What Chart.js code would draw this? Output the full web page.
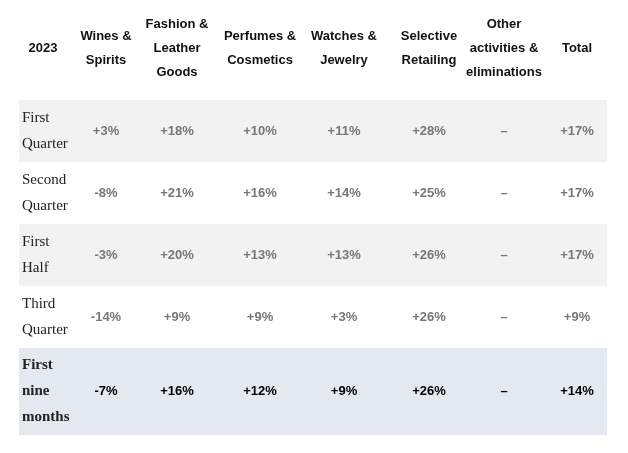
<!DOCTYPE html>
<html>
<head>
<meta charset="utf-8">
<script src="https://cdn.jsdelivr.net/npm/chart.js@4/dist/chart.umd.min.js"></script>
<style>
  body { margin: 0; background: #fff; }
  #wrap { width: 628px; height: 453px; }
</style>
</head>
<body>
<div id="wrap"><canvas id="tbl"></canvas></div>
<script>
// table content
const headers = [['2023'], ['Wines &', 'Spirits'], ['Fashion &', 'Leather', 'Goods'], ['Perfumes &', 'Cosmetics'],
    ['Watches &', 'Jewelry'], ['Selective', 'Retailing'], ['Other', 'activities &', 'eliminations'], ['Total']];
const periods = [['First', 'Quarter'], ['Second', 'Quarter'], ['First', 'Half'], ['Third', 'Quarter'], ['First', 'nine', 'months']];
const winesSpirits = ['+3%', '-8%', '-3%', '-14%', '-7%'];
const fashionLeather = ['+18%', '+21%', '+20%', '+9%', '+16%'];
const perfumesCosmetics = ['+10%', '+16%', '+13%', '+9%', '+12%'];
const watchesJewelry = ['+11%', '+14%', '+13%', '+3%', '+9%'];
const selectiveRetailing = ['+28%', '+25%', '+26%', '+26%', '+26%'];
const otherActivities = ['–', '–', '–', '–', '–'];
const total = ['+17%', '+17%', '+17%', '+9%', '+14%'];

// layout (pixel units of the hidden scales)
const colX = [43, 106, 177, 260, 344, 429, 504, 577];
const rowTop = [100, 162, 224, 286, 348, 435];
const rowFill = ['#f2f2f2', '#ffffff', '#f2f2f2', '#ffffff', '#e3e9ef'];

const columns = [winesSpirits, fashionLeather, perfumesCosmetics, watchesJewelry, selectiveRetailing, otherActivities, total];

const tablePlugin = {
    id: 'tablePlugin',
    afterDraw(chart) {
        const ctx = chart.ctx;
        const x = chart.scales.x, y = chart.scales.y;
        ctx.save();
        // row backgrounds
        for (let r = 0; r < periods.length; r++) {
            ctx.fillStyle = rowFill[r];
            const top = y.getPixelForValue(rowTop[r]);
            const bot = y.getPixelForValue(rowTop[r + 1]);
            ctx.fillRect(x.getPixelForValue(19), top, x.getPixelForValue(607) - x.getPixelForValue(19), bot - top);
        }
        // header
        ctx.textAlign = 'center';
        ctx.textBaseline = 'middle';
        ctx.fillStyle = '#111';
        ctx.font = 'bold 13px "Liberation Sans", Arial, sans-serif';
        headers.forEach((lines, c) => {
            lines.forEach((t, i) => {
                const yy = 48 + (i - (lines.length - 1) / 2) * 24;
                ctx.fillText(t, x.getPixelForValue(colX[c]), y.getPixelForValue(yy));
            });
        });
        // body
        periods.forEach((lines, r) => {
            const last = r === periods.length - 1;
            const mid = (rowTop[r] + rowTop[r + 1]) / 2;
            ctx.textAlign = 'left';
            ctx.fillStyle = '#222';
            ctx.font = (last ? 'bold ' : '') + '15px "Liberation Serif", "Times New Roman", serif';
            lines.forEach((t, i) => {
                const yy = mid + (i - (lines.length - 1) / 2) * 26;
                ctx.fillText(t, x.getPixelForValue(22), y.getPixelForValue(yy));
            });
            ctx.textAlign = 'center';
            ctx.fillStyle = last ? '#000' : '#777';
            ctx.font = 'bold 13px "Liberation Sans", Arial, sans-serif';
            columns.forEach((col, c) => {
                ctx.fillText(col[r], x.getPixelForValue(colX[c + 1]), y.getPixelForValue(mid));
            });
        });
        ctx.restore();
    }
};

new Chart(document.getElementById('tbl').getContext('2d'), {
    type: 'scatter',
    data: { datasets: [{ data: [] }] },
    options: {
        responsive: true,
        maintainAspectRatio: false,
        animation: false,
        layout: { padding: 0 },
        plugins: { legend: { display: false }, tooltip: { enabled: false } },
        scales: {
            x: { type: 'linear', min: 0, max: 628, display: false },
            y: { type: 'linear', min: 0, max: 453, reverse: true, display: false }
        }
    },
    plugins: [tablePlugin]
});
</script>
</body>
</html>
